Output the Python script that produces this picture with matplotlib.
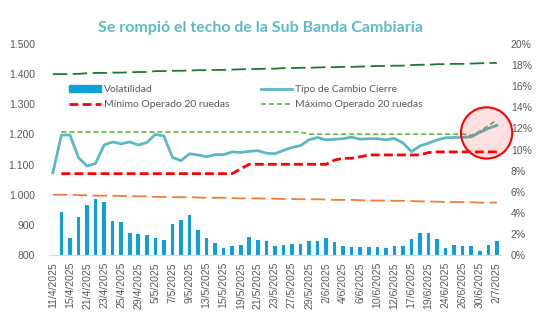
import matplotlib
matplotlib.use("Agg")
import matplotlib.pyplot as plt
from matplotlib.lines import Line2D
from matplotlib.patches import Patch, Ellipse
import numpy as np

# fechas (ruedas) y series
fechas = ["11/4/2025", "14/4/2025", "15/4/2025", "16/4/2025", "21/4/2025", "22/4/2025",
          "23/4/2025", "24/4/2025", "25/4/2025", "28/4/2025", "29/4/2025", "30/4/2025",
          "5/5/2025", "6/5/2025", "7/5/2025", "8/5/2025", "9/5/2025", "12/5/2025",
          "13/5/2025", "14/5/2025", "15/5/2025", "16/5/2025", "19/5/2025", "20/5/2025",
          "21/5/2025", "22/5/2025", "23/5/2025", "26/5/2025", "27/5/2025", "28/5/2025",
          "29/5/2025", "30/5/2025", "2/6/2025", "3/6/2025", "4/6/2025", "5/6/2025",
          "6/6/2025", "9/6/2025", "10/6/2025", "11/6/2025", "12/6/2025", "13/6/2025",
          "17/6/2025", "18/6/2025", "19/6/2025", "23/6/2025", "24/6/2025", "25/6/2025",
          "26/6/2025", "27/6/2025", "30/6/2025", "1/7/2025", "2/7/2025"]

tipo_cambio = [1073, 1198, 1198, 1123, 1095, 1104, 1165, 1175, 1169, 1175, 1165, 1173,
               1200, 1195, 1124, 1113, 1136, 1132, 1126, 1133, 1133, 1142, 1140, 1144,
               1146, 1138, 1136, 1147, 1157, 1163, 1182, 1190, 1182, 1184, 1186, 1191,
               1184, 1186, 1186, 1182, 1187, 1172, 1143, 1162, 1171, 1182, 1189, 1190,
               1190, 1192, 1207, 1220, 1230]

minimo_20 = [np.nan] + [1070] * 21 + [1086] + [1101] * 10 + [1115, 1121, 1121, 1126] \
            + [1132] * 7 + [1140] + [1142] * 8

maximo_20 = [np.nan] + [1208] * 29 + [1201] * 19 + [1197, 1211, 1229, 1248]

banda_inf = [1000, 1000, 1000, 999, 998, 997, 997, 997, 996, 995, 995, 995, 993, 993,
             992, 992, 992, 991, 990, 990, 990, 989, 988, 988, 988, 987, 987, 986, 986,
             985, 985, 985, 984, 983, 983, 983, 982, 981, 981, 981, 980, 980, 979, 978,
             978, 977, 976, 976, 976, 975, 974, 974, 974]

banda_sup = [1400, 1400, 1400, 1401, 1403, 1404, 1404, 1405, 1405, 1406, 1407, 1407,
             1410, 1410, 1411, 1411, 1412, 1413, 1413, 1414, 1414, 1415, 1416, 1417,
             1417, 1418, 1418, 1420, 1420, 1421, 1421, 1422, 1423, 1423, 1424, 1424,
             1425, 1426, 1427, 1427, 1428, 1428, 1430, 1431, 1431, 1433, 1433, 1434,
             1434, 1435, 1436, 1437, 1437]

volatilidad = [np.nan, 4.05, 1.61, 3.63, 4.74, 5.34, 5.05, 3.22, 3.13, 2.09, 2.02, 1.87,
               1.61, 1.45, 2.97, 3.35, 3.82, 2.37, 1.58, 1.17, 0.69, 0.82, 0.95, 1.71,
               1.45, 1.33, 0.85, 0.95, 1.07, 1.01, 1.33, 1.33, 1.58, 1.23, 0.82, 0.76,
               0.76, 0.76, 0.76, 0.69, 0.88, 0.85, 1.49, 2.05, 2.05, 1.49, 0.69, 0.95,
               0.88, 0.88, 0.38, 0.95, 1.33]

x = np.arange(len(fechas))
gris = "#595959"
tick_font = "Liberation Sans"

fig = plt.figure(figsize=(5.4, 3.33), dpi=100)
ax = fig.add_axes([0.090, 0.234, 0.838, 0.634])
ax2 = ax.twinx()

# volatilidad en el eje derecho, detrás de las líneas
ax2.bar(x, volatilidad, width=0.42, color="#0ea0d8", zorder=1)
ax2.set_ylim(0, 20)
ax2.set_yticks(range(0, 21, 2))
ax2.set_yticklabels([f"{v}%" for v in range(0, 21, 2)])

ax.set_zorder(ax2.get_zorder() + 1)
ax.patch.set_visible(False)

ax.plot(x, banda_sup, color="#1e7a32", lw=1.3, dashes=(8, 3))
ax.plot(x, banda_inf, color="#f07d3a", lw=1.3, dashes=(8, 3))
ax.plot(x, maximo_20, color="#62b83a", lw=1.2, dashes=(3, 1.8))
ax.plot(x, minimo_20, color="#ff0000", lw=2.0, dashes=(3.2, 1.5))
ax.plot(x, tipo_cambio, color="#5bb8c4", lw=2.0, solid_joinstyle="round")

ax.set_ylim(800, 1500)
ax.set_xlim(-0.5, len(fechas) - 0.5)
yt = list(range(800, 1501, 100))
ax.set_yticks(yt)
ax.set_yticklabels([f"{v:,}".replace(",", ".") for v in yt])
ax.set_xticks(x[::2])
ax.set_xticklabels(fechas[::2], rotation=90)

for a in (ax, ax2):
    for s in ("top", "left", "right"):
        a.spines[s].set_visible(False)
    a.spines["bottom"].set_color("#d9d9d9")
    a.tick_params(length=0, colors=gris, labelsize=7.5)
    for lab in a.get_xticklabels() + a.get_yticklabels():
        lab.set_fontfamily(tick_font)
ax.tick_params(axis="y", pad=10)
ax2.tick_params(axis="y", pad=7)
ax.tick_params(axis="x", pad=5)

# circulo resaltando la ruptura del techo
circ = Ellipse((50.8, 1205), width=6.0, height=170, facecolor=(1, 0, 0, 0.12),
               edgecolor="#ff0000", lw=1.5, zorder=5, clip_on=False)
ax.add_patch(circ)

handles = [
    Patch(color="#0ea0d8"),
    Line2D([], [], color="#ff0000", lw=2.0, dashes=(3.2, 1.5)),
    Line2D([], [], color="#5bb8c4", lw=2.0),
    Line2D([], [], color="#62b83a", lw=1.2, dashes=(3, 1.8)),
]
labels = ["Volatilidad", "Mínimo Operado 20 ruedas", "Tipo de Cambio Cierre",
          "Máximo Operado 20 ruedas"]
leg = ax.legend(handles, labels, ncol=2, loc="upper left", bbox_to_anchor=(0.03, 0.84),
                frameon=False, labelcolor=gris, handlelength=3.0,
                handletextpad=0.3, columnspacing=3.0, labelspacing=0.55,
                borderpad=0.2, prop={"family": "Lato", "size": 7.5})

fig.text(0.482, 0.915, "Se rompió el techo de la Sub Banda Cambiaria", ha="center",
         va="center", fontsize=11.5, fontweight="bold", color="#5bbac6", family="Lato")

fig.savefig("out.png", dpi=100)
